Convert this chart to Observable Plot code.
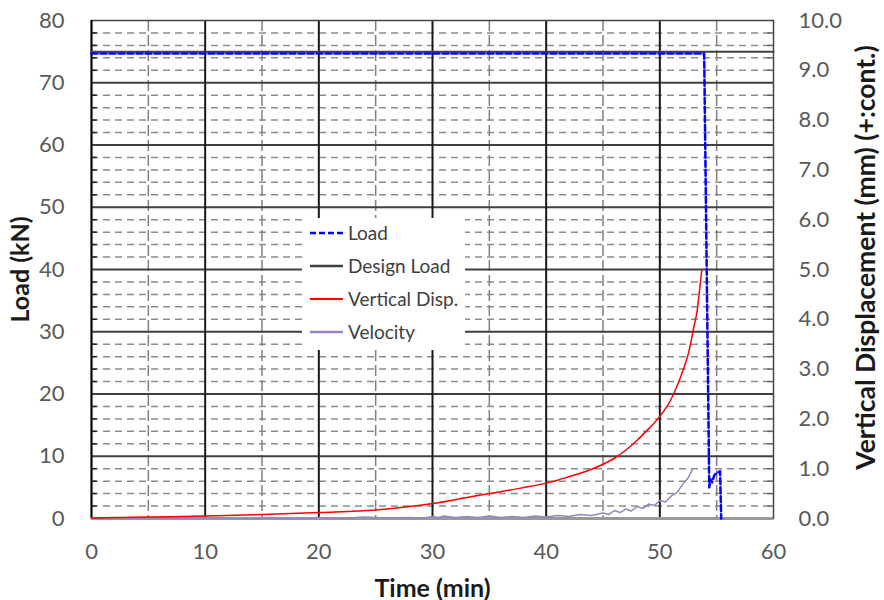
<!DOCTYPE html>
<html><head><meta charset="utf-8">
<script src="https://cdn.jsdelivr.net/npm/d3@7"></script>
<script src="https://cdn.jsdelivr.net/npm/@observablehq/plot@0.6"></script>
<style>
body{margin:0;background:#fff;}
#chart{position:relative;width:884px;height:600px;font-family:Lato,"Open Sans",sans-serif;}
#legend{position:absolute;left:302px;top:218px;width:163px;height:132px;background:#fff;}
</style></head><body><div id="chart"></div>
<script>
// ---- data ----
const loadTime = [0, 53.9, 54.35, 54.45, 54.6, 54.8, 55.3, 55.4];
const loadKN   = [74.7, 74.7, 5.0, 6.3, 5.8, 7.0, 7.6, 0];

const designTime = [0, 60];
const designKN   = [75, 75];

const dispTime = [0, 5, 10, 15, 20, 25, 28, 30, 33, 35, 38, 40, 41, 42, 43, 44, 45, 46, 47, 48, 49, 50, 51, 51.5, 52, 52.5, 53, 53.3, 53.5, 53.7];
const dispMm   = [0.01, 0.03, 0.05, 0.08, 0.12, 0.17, 0.24, 0.30, 0.42, 0.50, 0.62, 0.71, 0.77, 0.84, 0.91, 0.99, 1.09, 1.21, 1.37, 1.57, 1.8, 2.05, 2.4, 2.65, 2.95, 3.3, 3.85, 4.2, 4.6, 5.0];

const velTime = [0, 2, 4, 6, 8, 10, 12, 14, 16, 18, 20, 22, 24, 26, 28, 29, 30, 30.5, 31, 32, 33, 34, 35, 36, 37, 38, 39, 40, 41, 42, 43, 44, 45, 45.5, 46, 46.5, 47, 47.5, 48, 48.5, 49, 49.5, 50, 50.5, 51, 51.5, 52, 52.5, 52.9];
const velMm   = [0.0, 0.02, 0.0, 0.01, 0.0, 0.02, 0.01, 0.0, 0.01, 0.0, 0.02, 0.0, 0.03, 0.01, 0.02, 0.0, 0.04, 0.02, 0.05, 0.02, 0.04, 0.02, 0.05, 0.02, 0.04, 0.02, 0.05, 0.03, 0.06, 0.04, 0.08, 0.06, 0.11, 0.08, 0.16, 0.12, 0.19, 0.15, 0.24, 0.2, 0.29, 0.26, 0.36, 0.33, 0.45, 0.52, 0.68, 0.82, 1.0];

const xTicks = [0, 10, 20, 30, 40, 50, 60];
const yTicks = [0, 10, 20, 30, 40, 50, 60, 70, 80];
const yRightTicksMm = [0, 1, 2, 3, 4, 5, 6, 7, 8, 9, 10];
const minorKN = [2,4,6,8,12,14,16,18,22,24,26,28,32,34,36,38,42,44,46,48,52,54,56,58,62,64,66,68,72,74,76,78];
const minorT = [5, 15, 25, 35, 45, 55];
const kNperMm = 8;

const legendLabels = ["Load", "Design Load", "Vertical Disp.", "Velocity"];

// ---- build ----
const loadData = loadTime.map((t, i) => ({t, v: loadKN[i]}));
const designData = designTime.map((t, i) => ({t, v: designKN[i]}));
const dispData = dispTime.map((t, i) => ({t, v: dispMm[i] * kNperMm}));
const velData = velTime.map((t, i) => ({t, v: velMm[i] * kNperMm}));

const titleStyle = {fontWeight: "bold", fontSize: 25, fill: "#1a1a1a", textAnchor: "middle", lineAnchor: "middle"};

const plot = Plot.plot({
  width: 884, height: 600,
  marginLeft: 91, marginRight: 111, marginTop: 20, marginBottom: 82,
  style: {fontFamily: "Lato, 'Open Sans', sans-serif", fontSize: "22px", color: "#595959", background: "white"},
  x: {domain: [0, 60]},
  y: {domain: [0, 80]},
  marks: [
    Plot.ruleY(minorKN, {stroke: "#8c8c8c", strokeDasharray: "7,5", strokeWidth: 1.5}),
    Plot.ruleX(minorT, {stroke: "#808080", strokeDasharray: "11,4", strokeWidth: 1.5}),
    Plot.ruleY(yTicks.slice(1, -1), {stroke: "#404040", strokeWidth: 2}),
    Plot.ruleX(xTicks.slice(1, -1), {stroke: "#1a1a1a", strokeWidth: 2}),
    Plot.ruleY(minorKN, {x1: 0, x2: 0.5, stroke: "#222", strokeWidth: 1.5}),
    Plot.ruleY(minorKN, {x1: 59.5, x2: 60, stroke: "#666", strokeWidth: 1.5}),
    Plot.frame({stroke: "#444", strokeWidth: 1.5}),
    Plot.ruleX([0], {stroke: "#000", strokeWidth: 2}),
    Plot.ruleY([0], {stroke: "#999", strokeWidth: 3}),
    Plot.line(designData, {x: "t", y: "v", stroke: "#404040", strokeWidth: 2}),
    Plot.line(velData, {x: "t", y: "v", stroke: "#9884c0", strokeWidth: 1.5}),
    Plot.line(dispData, {x: "t", y: "v", stroke: "#ff0000", strokeWidth: 1.5, curve: "monotone-x"}),
    Plot.line(loadData, {x: "t", y: "v", stroke: "#0000ff", strokeWidth: 2.5, strokeDasharray: "6,3"}),
    Plot.axisY({ticks: yTicks, tickSize: 0, tickPadding: 27, anchor: "left", label: null}),
    Plot.axisY({ticks: yRightTicksMm.map(d => d * kNperMm), tickSize: 0, tickPadding: 25, anchor: "right", label: null, tickFormat: d => (d / kNperMm).toFixed(1)}),
    Plot.axisX({ticks: xTicks, tickSize: 0, tickPadding: 25, anchor: "bottom", label: null}),
    Plot.text(["Load (kN)"], {frameAnchor: "left", dx: -71, rotate: -90, ...titleStyle}),
    Plot.text(["Vertical Displacement (mm) (+:cont.)"], {frameAnchor: "right", dx: 93, dy: -12, rotate: -90, ...titleStyle, fontSize: 26.5}),
    Plot.text(["Time (min)"], {frameAnchor: "bottom", dy: 70, ...titleStyle})
  ]
});
const chart = document.getElementById("chart");
chart.appendChild(plot);

// legend overlay
const legendStyles = [
  {stroke: "#0000ff", width: 2.5, dash: "6,3"},
  {stroke: "#404040", width: 2.5, dash: null},
  {stroke: "#ff0000", width: 2, dash: null},
  {stroke: "#9884c0", width: 2.5, dash: null}
];
const lg = document.createElement("div");
lg.id = "legend";
const ns = "http://www.w3.org/2000/svg";
const svg = document.createElementNS(ns, "svg");
svg.setAttribute("width", 163); svg.setAttribute("height", 132);
legendLabels.forEach((lab, i) => {
  const y = 15 + i * 33;
  const ln = document.createElementNS(ns, "line");
  ln.setAttribute("x1", 8); ln.setAttribute("x2", 41);
  ln.setAttribute("y1", y); ln.setAttribute("y2", y);
  ln.setAttribute("stroke", legendStyles[i].stroke);
  ln.setAttribute("stroke-width", legendStyles[i].width);
  if (legendStyles[i].dash) ln.setAttribute("stroke-dasharray", legendStyles[i].dash);
  svg.appendChild(ln);
  const tx = document.createElementNS(ns, "text");
  tx.setAttribute("x", 46); tx.setAttribute("y", y);
  tx.setAttribute("dy", "0.35em");
  tx.setAttribute("font-size", 19);
  tx.setAttribute("font-family", "Lato, 'Open Sans', sans-serif");
  tx.setAttribute("fill", "#404040");
  tx.textContent = lab;
  svg.appendChild(tx);
});
lg.appendChild(svg);
chart.appendChild(lg);
</script>
</body></html>
